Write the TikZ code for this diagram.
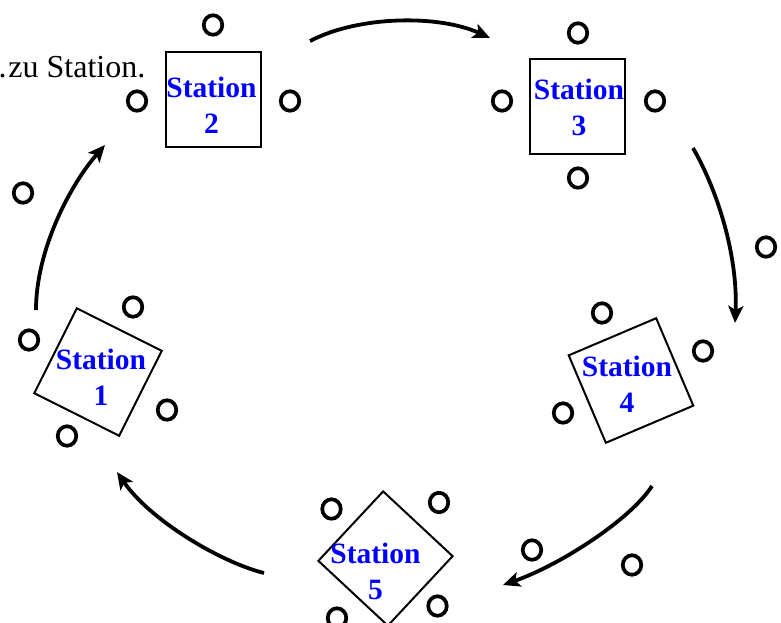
\documentclass[tikz,border=0pt]{standalone}
\usepackage{fontspec}
\setmainfont{Liberation Serif}
\usetikzlibrary{shapes.geometric,arrows.meta}
\definecolor{stblue}{RGB}{0,0,255}
\tikzset{
  ring/.style={draw, ellipse, line width=3.7pt, minimum width=18.5pt, minimum height=19.5pt, inner sep=0pt},
  sbox/.style={draw, line width=2pt, minimum size=95pt, inner sep=0pt},
  slabel/.style={text=stblue, font=\fontsize{29.5}{36}\selectfont\bfseries, align=center, inner sep=0pt},
  flow/.style={line width=3.8pt, -{Stealth[length=17pt,width=15pt,inset=4pt]}},
  plain/.style={font=\fontsize{32}{37}\selectfont, inner sep=0pt}
}
\begin{document}
\begin{tikzpicture}[x=1pt,y=-1pt]
\useasboundingbox (0,0) rectangle (781,622);

% text fragment
\node[plain, anchor=base east] (txt) at (145.5,77.5) {zu Station.};
\node[plain, anchor=base west] (dot) at (-1.5,77.5) {.};

% Station boxes
\node[sbox] (s2) at (213,99) {};
\node[sbox] (s3) at (577.5,106.5) {};
\node[sbox, rotate=23] (s4) at (631,380.5) {};
\node[sbox, rotate=47] (s5) at (385.5,558.5) {};
\node[sbox, rotate=-26.6] (s1) at (98,372) {};

% labels
\node[slabel] (l2) at (211.5,105.5) {Station\\2};
\node[slabel] (l3) at (579,107) {Station\\3};
\node[slabel] (l4) at (627,384) {Station\\4};
\node[slabel] (l5) at (375.5,571) {Station\\5};
\node[slabel] (l1) at (101,377) {Station\\1};

% rings
\node[ring] (r2a) at (213,25) {};
\node[ring] (r2b) at (137,101) {};
\node[ring] (r2c) at (290,101) {};
\node[ring] (r3a) at (578,33) {};
\node[ring] (r3b) at (502,101) {};
\node[ring] (r3c) at (655,101) {};
\node[ring] (r3d) at (578,178) {};
\node[ring] (r34) at (766,247) {};
\node[ring] (r4a) at (602,313) {};
\node[ring] (r4b) at (703,351) {};
\node[ring] (r4c) at (563,413) {};
\node[ring] (r5a) at (331.5,509) {};
\node[ring] (r5b) at (439,502.5) {};
\node[ring] (r5c) at (437.5,606) {};
\node[ring] (r5d) at (337,618) {};
\node[ring] (r45a) at (532,550) {};
\node[ring] (r45b) at (632,565) {};
\node[ring] (r1a) at (133,307) {};
\node[ring] (r1b) at (29,340) {};
\node[ring] (r1c) at (167,410) {};
\node[ring] (r1d) at (67,436) {};
\node[ring] (r12) at (23,193) {};

% arrow end points
\coordinate (a23s) at (310,41);
\coordinate (a23e) at (490,38);
\coordinate (a34s) at (693,148);
\coordinate (a34e) at (735,323);
\coordinate (a45s) at (652,486);
\coordinate (a45e) at (503,585);
\coordinate (a51s) at (264,573);
\coordinate (a51e) at (117,472);
\coordinate (a12s) at (36,310);
\coordinate (a12e) at (105,145);

\draw[flow] (a23s) .. controls (360,15) and (440,15) .. (a23e);
\draw[flow] (a34s) .. controls (720,195) and (738,260) .. (a34e);
\draw[flow] (a45s) .. controls (630,520) and (560,565) .. (a45e);
\draw[flow] (a51s) .. controls (220,562) and (150,520) .. (a51e);
\draw[flow] (a12s) .. controls (36,250) and (70,185) .. (a12e);
\end{tikzpicture}
\end{document}
